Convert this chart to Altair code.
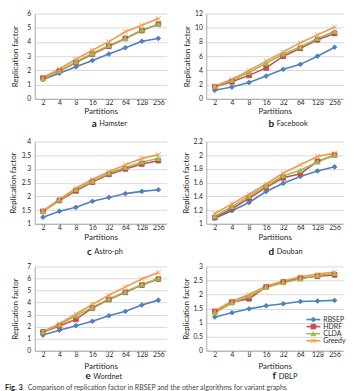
import altair as alt
import pandas as pd

FONT = "Lato"
TEXT = "#262626"

partitions = ["2", "4", "8", "16", "32", "64", "128", "256"]
series = ["RBSEP", "HDRF", "CLDA", "Greedy"]
colors = ["#4F81BD", "#C0504D", "#9BBB59", "#F79646"]
marker_shapes = ["diamond", "square", "triangle-up", "M-1,-1L1,1M-1,1L1,-1"]

# Replication factor per dataset, one list per algorithm (partitions 2..256)
hamster_rbsep = [1.35, 1.80, 2.25, 2.70, 3.15, 3.60, 4.05, 4.25]
hamster_hdrf = [1.45, 1.95, 2.55, 3.15, 3.70, 4.25, 4.80, 5.25]
hamster_clda = [1.40, 1.95, 2.60, 3.20, 3.75, 4.25, 4.85, 5.25]
hamster_greedy = [1.50, 2.10, 2.78, 3.42, 4.02, 4.72, 5.17, 5.65]

facebook_rbsep = [1.20, 1.65, 2.30, 3.20, 4.15, 4.85, 6.00, 7.25]
facebook_hdrf = [1.70, 2.40, 3.30, 4.35, 6.00, 7.10, 8.30, 9.20]
facebook_clda = [1.75, 2.60, 3.70, 5.00, 6.30, 7.30, 8.50, 9.50]
facebook_greedy = [1.80, 2.75, 4.00, 5.30, 6.60, 7.90, 9.00, 10.10]

astro_rbsep = [1.24, 1.46, 1.60, 1.82, 1.96, 2.10, 2.18, 2.24]
astro_hdrf = [1.45, 1.85, 2.20, 2.52, 2.80, 3.00, 3.18, 3.30]
astro_clda = [1.45, 1.87, 2.25, 2.55, 2.85, 3.05, 3.25, 3.38]
astro_greedy = [1.47, 1.90, 2.30, 2.62, 2.90, 3.15, 3.38, 3.52]

douban_rbsep = [1.08, 1.19, 1.31, 1.47, 1.59, 1.69, 1.77, 1.83]
douban_hdrf = [1.09, 1.22, 1.37, 1.53, 1.67, 1.73, 1.91, 2.00]
douban_clda = [1.11, 1.25, 1.40, 1.55, 1.70, 1.78, 1.90, 2.00]
douban_greedy = [1.15, 1.29, 1.43, 1.58, 1.74, 1.86, 1.98, 2.03]

wordnet_rbsep = [1.30, 1.70, 2.08, 2.45, 2.90, 3.27, 3.80, 4.20]
wordnet_hdrf = [1.55, 2.05, 2.60, 3.55, 4.25, 4.85, 5.45, 5.95]
wordnet_clda = [1.55, 2.15, 2.90, 3.60, 4.30, 4.90, 5.50, 6.00]
wordnet_greedy = [1.60, 2.25, 3.05, 3.85, 4.60, 5.30, 5.95, 6.50]

dblp_rbsep = [1.20, 1.35, 1.49, 1.60, 1.67, 1.75, 1.77, 1.79]
dblp_hdrf = [1.40, 1.73, 1.85, 2.27, 2.45, 2.58, 2.65, 2.70]
dblp_clda = [1.35, 1.70, 1.95, 2.25, 2.42, 2.55, 2.68, 2.75]
dblp_greedy = [1.42, 1.76, 2.00, 2.30, 2.48, 2.63, 2.73, 2.80]

hamster_ticks = [0, 1, 2, 3, 4, 5, 6]
facebook_ticks = [0, 2, 4, 6, 8, 10, 12]
astro_ticks = [1, 1.5, 2, 2.5, 3, 3.5, 4]
douban_ticks = [1, 1.2, 1.4, 1.6, 1.8, 2, 2.2]
wordnet_ticks = [0, 1, 2, 3, 4, 5, 6, 7]
dblp_ticks = [0, 0.5, 1, 1.5, 2, 2.5, 3]

COL1_W, COL2_W = 133, 138
ROW_H = [86, 83, 85]
XTITLE_OFFSET = [12.5, 14, 15.5]

color_scale = alt.Scale(domain=series, range=colors)
shape_scale = alt.Scale(domain=series, range=marker_shapes)


def series_legend():
    """Line-and-marker key drawn inside the plot area."""
    df = pd.DataFrame({"series": series})
    base = alt.Chart(df)
    y = alt.Y("series:N", sort=series,
              scale=alt.Scale(domain=series, range=[50, 78.5], padding=0),
              axis=None)
    color = alt.Color("series:N", scale=color_scale, legend=None)
    rule = base.mark_rule(strokeWidth=1.6).encode(
        x=alt.value(101), x2=alt.value(115), y=y, color=color)
    pts = base.mark_point(filled=True, size=22, opacity=1, strokeWidth=1).encode(
        x=alt.value(108), y=y, color=color,
        stroke=alt.Stroke("series:N", scale=color_scale, legend=None),
        shape=alt.Shape("series:N", scale=shape_scale, legend=None))
    txt = base.mark_text(align="left", baseline="middle", font=FONT,
                         fontSize=7, color=TEXT).encode(
        x=alt.value(118), y=y, text="series:N")
    return alt.layer(rule, pts, txt)


def panel(lists, letter, name, ticks, width, height, title_x, caption_x,
          xtitle_y, legend=False, caption=False):
    rows = []
    for s, vals in zip(series, lists):
        for p, v in zip(partitions, vals):
            rows.append({"Partitions": p, "series": s, "value": v})
    df = pd.DataFrame(rows)

    x = alt.X("Partitions:O", sort=partitions,
              scale=alt.Scale(domain=partitions, padding=0.5),
              axis=alt.Axis(title="Partitions", labelAngle=0, ticks=False,
                            labelPadding=1, labelFontSize=6.8, labelFont=FONT,
                            labelColor=TEXT, titleFontSize=8, titleFont=FONT,
                            titleFontWeight="normal", titleColor=TEXT,
                            titleY=xtitle_y, titleBaseline="middle",
                            grid=False, domainColor="#a8a8a8"))
    y = alt.Y("value:Q",
              scale=alt.Scale(domain=[ticks[0], ticks[-1]], nice=False, zero=False),
              axis=alt.Axis(title="Replication factor", values=ticks, format=".1~f",
                            ticks=False, labelPadding=4, labelFontSize=6.8,
                            labelFont=FONT, labelColor=TEXT, titleFontSize=8,
                            titleFont=FONT, titleFontWeight="normal",
                            titleColor=TEXT, titleX=title_x,
                            titleBaseline="middle", grid=True,
                            gridColor="#d9d9d9", domainColor="#a8a8a8"))
    color = alt.Color("series:N", scale=color_scale, legend=None)
    base = alt.Chart(df)
    lines = base.mark_line(strokeWidth=1.6).encode(x=x, y=y, color=color)
    points = base.mark_point(filled=True, size=22, opacity=1, strokeWidth=1).encode(
        x=x, y=y, color=color,
        stroke=alt.Stroke("series:N", scale=color_scale, legend=None),
        shape=alt.Shape("series:N", scale=shape_scale, legend=None),
    )

    cap_df = pd.DataFrame({"letter": [letter], "name": [name]})
    cap = alt.Chart(cap_df)
    letter_text = cap.mark_text(align="right", baseline="middle", font=FONT,
                                fontSize=10, fontWeight="bold", color="#1a1a1a").encode(
        x=alt.value(caption_x - 2.5), y=alt.value(111), text="letter:N")
    name_text = cap.mark_text(align="left", baseline="middle", font=FONT,
                              fontSize=7.5, color=TEXT).encode(
        x=alt.value(caption_x), y=alt.value(111.5), text="name:N")
    layers = [alt.layer(lines, points), letter_text, name_text]

    if caption:
        fig_df = pd.DataFrame({
            "head": ["Fig. 3"],
            "body": ["Comparison of replication factor in RBSEP and the other algorithms for variant graphs"],
        })
        fig = alt.Chart(fig_df)
        layers.append(fig.mark_text(align="left", baseline="middle", font=FONT,
                                    fontSize=7.5, fontWeight="bold", color="#1a1a1a").encode(
            x=alt.value(-30), y=alt.value(123), text="head:N"))
        layers.append(fig.mark_text(align="left", baseline="middle", font=FONT,
                                    fontSize=7, color="#444444").encode(
            x=alt.value(-7), y=alt.value(123), text="body:N"))

    if legend:
        layers.append(series_legend())

    return alt.layer(*layers).resolve_scale(y="independent").properties(
        width=width, height=height)


charts = [
    panel([hamster_rbsep, hamster_hdrf, hamster_clda, hamster_greedy],
          "a", "Hamster", hamster_ticks, COL1_W, ROW_H[0], -19, 65, XTITLE_OFFSET[0]),
    panel([facebook_rbsep, facebook_hdrf, facebook_clda, facebook_greedy],
          "b", "Facebook", facebook_ticks, COL2_W, ROW_H[0], -19, 71, XTITLE_OFFSET[0]),
    panel([astro_rbsep, astro_hdrf, astro_clda, astro_greedy],
          "c", "Astro-ph", astro_ticks, COL1_W, ROW_H[1], -21, 60, XTITLE_OFFSET[1]),
    panel([douban_rbsep, douban_hdrf, douban_clda, douban_greedy],
          "d", "Douban", douban_ticks, COL2_W, ROW_H[1], -20, 71, XTITLE_OFFSET[1]),
    panel([wordnet_rbsep, wordnet_hdrf, wordnet_clda, wordnet_greedy],
          "e", "Wordnet", wordnet_ticks, COL1_W, ROW_H[2], -19, 59, XTITLE_OFFSET[2],
          caption=True),
    panel([dblp_rbsep, dblp_hdrf, dblp_clda, dblp_greedy],
          "f", "DBLP", dblp_ticks, COL2_W, ROW_H[2], -20, 73, XTITLE_OFFSET[2],
          legend=True),
]

chart = alt.concat(
    *charts, columns=2, align="each", bounds="flush",
    spacing={"row": 43, "column": 40},
).resolve_scale(
    color="independent", shape="independent", stroke="independent",
).properties(
    padding={"left": 5, "top": 9, "right": 12, "bottom": 0},
    background="white",
).configure_view(stroke=None)

chart.save("out.html", embed_options={"renderer": "svg", "actions": False})
